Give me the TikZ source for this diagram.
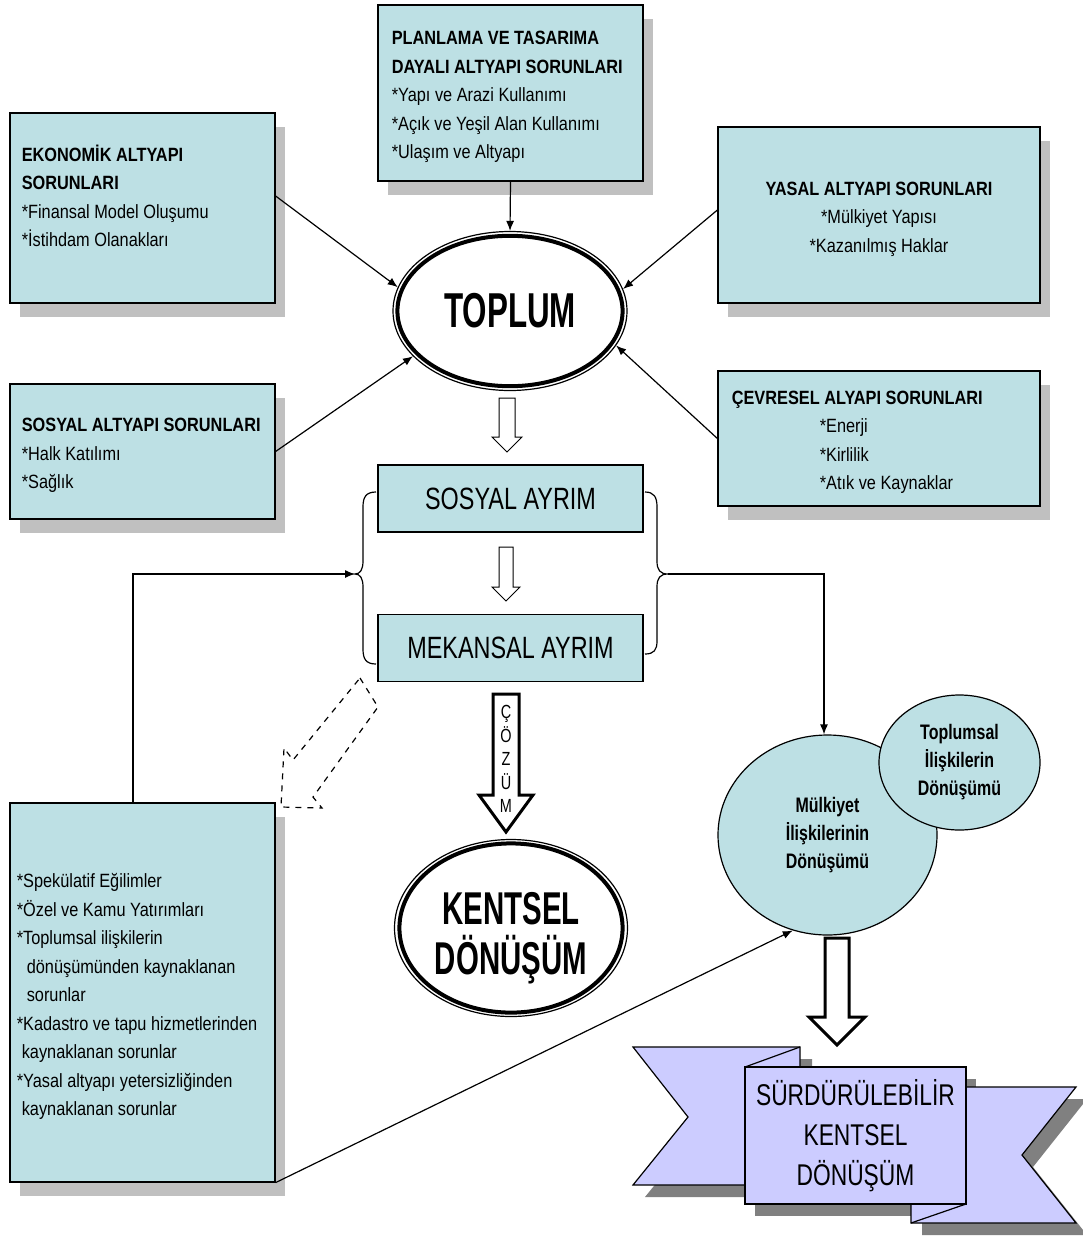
\documentclass[tikz,border=0pt]{standalone}
\usepackage{fontspec}
\setmainfont{Liberation Sans}[FakeStretch=0.85]
\newfontfamily\condfont{Liberation Sans}[FakeStretch=0.64]
\newfontfamily\narrowfont{Liberation Sans}[FakeStretch=0.76]
\usetikzlibrary{arrows.meta,shapes.geometric,shadows}

\definecolor{boxfill}{RGB}{189,224,228}
\definecolor{shadowgrey}{RGB}{192,192,192}
\definecolor{ribbonfill}{RGB}{204,204,255}
\definecolor{ribbonshadow}{RGB}{128,128,128}

% hollow block arrow pointing down: x, y top, y head, y tip, half shaft, half head
\newcommand{\hollowdown}[7][]{%
  \draw[#1] ({#2-#6},#3) -- ({#2+#6},#3) -- ({#2+#6},#4) -- ({#2+#7},#4)
    -- (#2,#5) -- ({#2-#7},#4) -- ({#2-#6},#4) -- cycle;}

\begin{document}
\begin{tikzpicture}[x=0.5pt, y=-0.5pt,
    problem/.style={draw, fill=boxfill, line width=0.6pt, inner sep=0pt,
      general shadow={shadow xshift=5pt, shadow yshift=-7pt, fill=shadowgrey}},
    txt/.style={align=left, inner sep=0pt, font=\fontsize{9.6}{14.25}\selectfont},
    ayrim/.style={draw, fill=boxfill, line width=0.6pt, inner sep=0pt,
      minimum width=132.5pt, minimum height=33.5pt, font=\fontsize{15.4}{18}\narrowfont},
    bubble/.style={ellipse, draw, fill=boxfill, line width=0.6pt, inner sep=0pt,
      align=center, font=\fontsize{10.5}{14}\narrowfont\bfseries},
    bigoval/.style={ellipse, draw, fill=white, line width=0.6pt, inner sep=0pt,
      align=center, font=\condfont\bfseries},
    conn/.style={line width=0.6pt, -{Latex[length=5pt, width=4pt]}}]
  \useasboundingbox (0,0) rectangle (1082,1237);

  % problem boxes
  \node[problem, minimum width=132.5pt, minimum height=88pt] (plan) at (510.5,93) {};
  \node[txt, anchor=west] (plantxt) at ([xshift=7pt, yshift=-2pt]plan.west)
    {\textbf{PLANLAMA VE TASARIMA}\\ \textbf{DAYALI ALTYAPI SORUNLARI}\\{}*Yapı ve Arazi Kullanımı\\{}*Açık ve Yeşil Alan Kullanımı\\{}*Ulaşım ve Altyapı};

  \node[problem, minimum width=132.5pt, minimum height=95pt] (eko) at (142.5,208) {};
  \node[txt, anchor=west] (ekotxt) at ([xshift=6pt, yshift=6pt]eko.west)
    {\textbf{EKONOMİK ALTYAPI}\\ \textbf{SORUNLARI}\\{}*Finansal Model Oluşumu\\{}*İstihdam Olanakları};

  \node[problem, minimum width=161pt, minimum height=88pt] (yasal) at (879,215) {};
  \node[txt, align=center] (yasaltxt) at ([yshift=-2pt]yasal.center)
    {\textbf{YASAL ALTYAPI SORUNLARI}\\{}*Mülkiyet Yapısı\\{}*Kazanılmış Haklar};

  \node[problem, minimum width=132.5pt, minimum height=67.5pt] (sosyalalt) at (142.5,451.5) {};
  \node[txt, anchor=west] (sosyaltxt) at ([xshift=6pt, yshift=-2pt]sosyalalt.west)
    {\textbf{SOSYAL ALTYAPI SORUNLARI}\\{}*Halk Katılımı\\{}*Sağlık};

  \node[problem, minimum width=161pt, minimum height=67.5pt] (cevre) at (879,438.5) {};
  \node[txt, anchor=west] (cevretxt) at ([xshift=7pt, yshift=-2pt]cevre.west)
    {\textbf{ÇEVRESEL ALYAPI SORUNLARI}\\\hspace*{44pt}*Enerji\\\hspace*{44pt}*Kirlilik\\\hspace*{44pt}*Atık ve Kaynaklar};

  \node[problem, minimum width=132.5pt, minimum height=189.5pt] (sorun) at (142.5,992.5) {};
  \node[txt, anchor=west] (soruntxt) at ([xshift=3.5pt, yshift=-2pt]sorun.west)
    {*Spekülatif Eğilimler\\{}*Özel ve Kamu Yatırımları\\{}*Toplumsal ilişkilerin\\
     \hspace*{5pt}dönüşümünden kaynaklanan\\\hspace*{5pt}sorunlar\\{}*Kadastro ve tapu hizmetlerinden\\
     \hspace*{2.5pt}kaynaklanan sorunlar\\{}*Yasal altyapı yetersizliğinden\\\hspace*{2.5pt}kaynaklanan sorunlar};

  % TOPLUM
  \node[bigoval, minimum width=117pt, minimum height=79.5pt,
    font=\fontsize{24.5}{28}\condfont\bfseries] (toplum) at (510,311) {TOPLUM};
  \draw[line width=2pt] (toplum.center) ellipse [x radius=56.3pt, y radius=37.6pt];

  \draw[conn] (plan.south) -- (toplum.north);
  \draw[conn] ([yshift=6pt]eko.east) -- (toplum.168);
  \draw[conn] ([yshift=2.5pt]yasal.west) -- (toplum.11);
  \draw[conn] (sosyalalt.east) -- (toplum.205);
  \draw[conn] (cevre.west) -- (toplum.342);

  % ayrim
  \node[ayrim] (sosyalayrim) at (510.5,498.5) {SOSYAL AYRIM};
  \node[ayrim] (mekansal) at (510.5,648) {MEKANSAL AYRIM};
  \hollowdown[line width=0.5pt]{507}{398}{437}{452}{8}{15}
  \hollowdown[line width=0.5pt]{506}{547}{587}{601}{7}{14}

  % braces
  \coordinate (ltip) at (355,574);
  \coordinate (rtip) at (668,574);
  \draw[line width=0.6pt] (376,492) .. controls (366,492) and (363,497) .. (363,507)
    -- (363,561) .. controls (363,570) and (360,574) .. (ltip)
    .. controls (360,574) and (363,578) .. (363,587) -- (363,649)
    .. controls (363,659) and (366,664) .. (376,664);
  \draw[line width=0.6pt] (645,492) .. controls (654,492) and (657,497) .. (657,507)
    -- (657,561) .. controls (657,570) and (660,574) .. (rtip)
    .. controls (660,574) and (657,578) .. (657,587) -- (657,641)
    .. controls (657,650) and (654,654) .. (645,654);

  % dashed arrow
  \draw[dashed, line width=0.6pt] (360,678) -- (378,707) -- (313,797) -- (322,808)
    -- (281,807) -- (284,748) -- (293,760) -- cycle;

  % cozum
  \hollowdown[line width=1.5pt]{506}{694}{795}{832}{13}{27}
  \node[align=center, inner sep=0pt, font=\fontsize{9.5}{11.8}\narrowfont] (cozum) at (506,759)
    {Ç\\Ö\\Z\\Ü\\M};

  \node[bigoval, minimum width=116.5pt, minimum height=88.5pt] (kentsel) at (511,928) {};
  \draw[line width=2pt] (kentsel.center) ellipse [x radius=55.8pt, y radius=42.3pt];
  \node[align=center, inner sep=0pt, font=\fontsize{23}{25}\condfont\bfseries] (kentseltxt)
    at ([yshift=-5pt]kentsel.center) {KENTSEL\\DÖNÜŞÜM};

  % donusum bubbles
  \node[bubble, minimum width=109.5pt, minimum height=100pt] (mulk) at (827.5,835)
    {Mülkiyet\\İlişkilerinin\\Dönüşümü};
  \node[bubble, minimum width=80.5pt, minimum height=67.5pt] (toplumsal) at (959.5,762.5)
    {Toplumsal\\İlişkilerin\\Dönüşümü};

  \draw[conn] ([xshift=-4.75pt]sorun.north) |- (ltip);
  \draw[conn] (rtip) -| ([xshift=-1.75pt]mulk.north);
  \draw[conn] (sorun.south east) -- (mulk.250);

  \hollowdown[line width=1.5pt]{837}{938}{1017}{1045}{12}{28}

  % ribbon
  \fill[ribbonshadow] (755,1079) rectangle (976,1216);
  \fill[ribbonshadow] (645,1059) -- (812,1059) -- (812,1197) -- (645,1197) -- (700,1129) -- cycle;
  \fill[ribbonshadow] (922,1099) -- (1087,1099) -- (1033,1167) -- (1087,1235) -- (922,1235) -- cycle;
  \draw[fill=ribbonfill, line width=0.6pt] (633,1047) -- (800,1047) -- (800,1185) -- (633,1185)
    -- (688,1117) -- cycle;
  \draw[fill=ribbonfill, line width=0.6pt] (911,1087) -- (1076,1087) -- (1022,1155)
    -- (1076,1223) -- (911,1223) -- cycle;
  \draw[line width=0.6pt] (800,1047) -- (745,1067);
  \draw[line width=0.6pt] (911,1223) -- (966,1204);
  \node[draw, fill=ribbonfill, line width=0.6pt, inner sep=0pt, minimum width=110.5pt,
    minimum height=68.5pt, align=center, font=\fontsize{15}{20}\narrowfont] (ribbon)
    at (855.5,1135.5) {SÜRDÜRÜLEBİLİR\\KENTSEL\\DÖNÜŞÜM};
\end{tikzpicture}
\end{document}
